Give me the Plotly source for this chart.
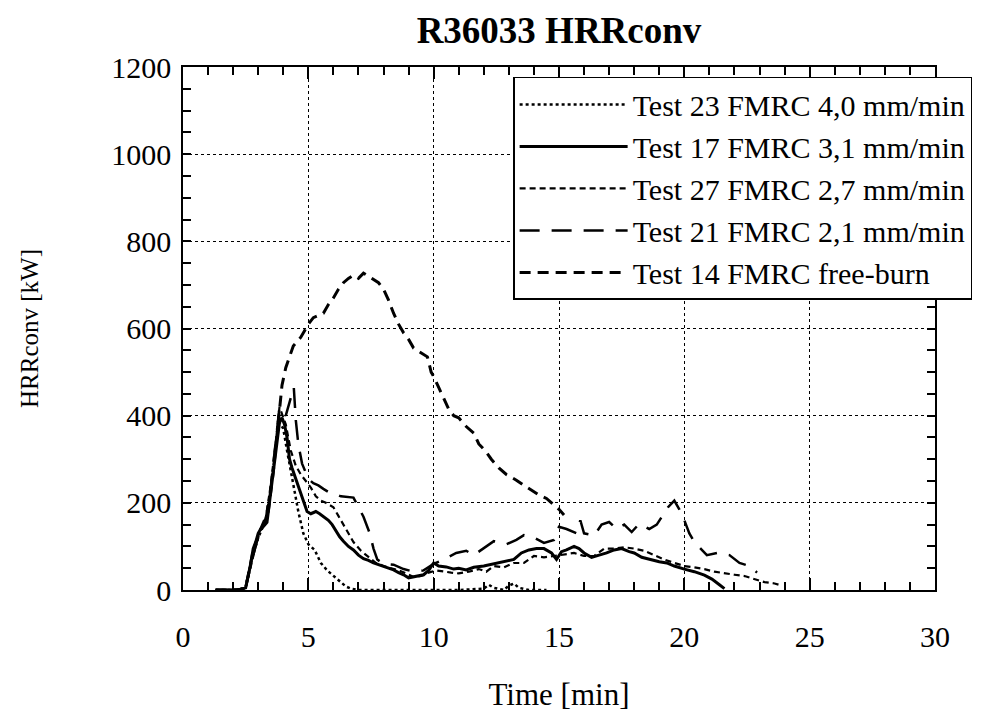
import plotly.graph_objects as go

# ---------------- data ----------------
t23 = [1.3, 2.2, 2.5, 2.7, 3.0, 3.3, 3.5, 3.7, 3.85, 4.0, 4.15, 4.3, 4.45, 4.6, 4.8, 5.0, 5.25,
       5.5, 5.75, 6.0, 6.3, 6.5, 6.7, 7.0, 8.0, 9.0, 10.0, 11.0, 12.0, 12.2, 12.4, 12.8, 13.0,
       13.2, 13.4, 13.8, 14.5]
v23 = [0, 0, 8, 60, 120, 160, 230, 330, 385, 370, 320, 270, 230, 180, 130, 105, 92,
       62, 45, 32, 18, 8, 3, 0, 0, 0, 0, 0, 3, 12, 5, 0, 10,
       15, 5, 0, 0]

t17 = [1.3, 2.0, 2.3, 2.5, 2.7, 2.8, 2.9, 3.0, 3.1, 3.2, 3.35, 3.45, 3.55, 3.65, 3.75, 3.85,
       3.95, 4.05, 4.15, 4.25, 4.35, 4.5, 4.65, 4.8, 4.95, 5.1, 5.3, 5.45, 5.6, 5.8, 5.95, 6.1,
       6.25, 6.4, 6.6, 6.8, 7.0, 7.2, 7.4, 7.6, 7.8, 8.0, 8.2, 8.4, 8.6, 8.8, 9.0, 9.2, 9.4,
       9.6, 9.8, 10.0, 10.2, 10.5, 10.8, 11.0, 11.3, 11.6, 12.0, 12.4, 12.8, 13.2, 13.5, 13.8,
       14.1, 14.4, 14.7, 14.9, 15.1, 15.3, 15.6, 15.8, 16.0, 16.3, 16.6, 16.9, 17.2, 17.5,
       17.8, 18.0, 18.3, 18.6, 19.0, 19.3, 19.6, 20.0, 20.4, 20.8, 21.1, 21.4, 21.6]
v17 = [0, 0, 2, 5, 60, 95, 110, 130, 140, 145, 155, 200, 245, 295, 340, 385,
       395, 380, 350, 300, 280, 255, 225, 200, 180, 175, 180, 175, 168, 160, 150, 135,
       122, 112, 100, 92, 80, 72, 68, 62, 58, 53, 50, 46, 40, 35, 28, 30, 32,
       35, 45, 62, 55, 53, 48, 50, 46, 52, 55, 60, 65, 70, 85, 92,
       95, 95, 85, 70, 88, 92, 100, 95, 85, 75, 80, 85, 92, 95,
       88, 85, 75, 70, 65, 62, 55, 48, 42, 34, 25, 12, 3]

t27 = [1.3, 2.3, 2.5, 2.7, 3.0, 3.3, 3.5, 3.7, 3.85, 4.1, 4.3, 4.5, 4.7, 4.9, 5.1, 5.3, 5.5,
       5.7, 6.0, 6.2, 6.5, 6.8, 7.1, 7.4, 7.7, 8.0, 8.3, 8.6, 8.9, 9.2, 9.5, 9.8, 10.1, 10.4,
       10.7, 11.0, 11.4, 11.8, 12.1, 12.4, 12.8, 13.2, 13.6, 14.0, 14.4, 14.8, 15.2, 15.6,
       16.0, 16.4, 16.8, 17.2, 17.6, 18.0, 18.4, 18.8, 19.2, 19.6, 20.0, 20.4, 20.8, 21.2,
       21.6, 22.0, 22.4, 22.8, 23.2, 23.6, 23.9]
v27 = [0, 0, 5, 55, 125, 165, 240, 340, 420, 380, 320, 285, 265, 250, 235, 215, 205,
       200, 190, 170, 140, 110, 90, 75, 62, 55, 50, 45, 38, 30, 32, 40, 45, 42,
       40, 38, 42, 48, 42, 55, 52, 62, 62, 78, 75, 78, 82, 85,
       78, 78, 95, 95, 98, 95, 90, 80, 70, 62, 55, 52, 48, 42,
       38, 35, 32, 25, 18, 15, 10]

t21 = [1.3, 2.3, 2.5, 2.7, 3.0, 3.3, 3.5, 3.7, 3.85, 4.1, 4.3, 4.42, 4.5, 4.6, 4.75, 5.0,
       5.2, 5.4, 5.6, 5.8, 6.0, 6.3, 6.8, 7.0, 7.2, 7.45, 7.6, 7.75, 8.0, 8.4, 8.8, 9.2,
       9.6, 10.0, 10.4, 10.9, 11.3, 11.6, 12.0, 12.4, 12.9, 13.3, 13.6, 14.0, 14.4, 14.8,
       15.0, 15.3, 15.7, 15.85, 16.0, 16.4, 16.7, 17.0, 17.3, 17.6, 17.9, 18.2, 18.6, 18.9,
       19.35, 19.6, 19.8, 20.0, 20.2, 20.4, 20.9, 21.3, 21.8, 22.2, 22.6, 22.9]
v21 = [0, 0, 6, 58, 122, 162, 235, 335, 420, 400, 440, 465, 390, 335, 290, 255,
       245, 240, 232, 225, 222, 215, 212, 190, 168, 130, 95, 70, 60, 58, 48, 42,
       45, 60, 70, 85, 90, 80, 95, 112, 105, 115, 126, 120, 108, 115,
       145, 140, 130, 160, 130, 125, 150, 156, 140, 150, 133, 152, 140, 150,
       190, 205, 185, 160, 130, 110, 80, 85, 80, 62, 55, 40]

t14 = [1.3, 2.3, 2.5, 2.8, 3.1, 3.4, 3.6, 3.75, 3.85, 3.95, 4.1, 4.25, 4.4, 4.55, 4.7, 4.85,
       5.0, 5.2, 5.4, 5.6, 5.8, 6.0, 6.2, 6.4, 6.6, 6.8, 7.0, 7.2, 7.4, 7.6, 7.8, 8.0, 8.2,
       8.4, 8.6, 8.8, 9.0, 9.2, 9.4, 9.6, 9.75, 9.9, 10.0, 10.2, 10.4, 10.6, 10.8, 11.0,
       11.3, 11.6, 11.8, 12.05, 12.3, 12.6, 12.9, 13.3, 13.6, 13.9, 14.2, 14.5, 14.8, 15.0,
       15.2]
v14 = [0, 0, 5, 90, 140, 180, 270, 360, 420, 470, 510, 535, 560, 570, 580, 595,
       610, 625, 630, 635, 655, 670, 690, 705, 715, 722, 715, 727, 720, 712, 705, 690, 665,
       635, 610, 590, 575, 555, 548, 540, 535, 500, 490, 465, 440, 415, 400, 395,
       375, 360, 335, 320, 300, 280, 265, 252, 240, 228, 218, 210, 195, 185,
       172]

names = ["Test 23 FMRC 4,0 mm/min", "Test 17 FMRC 3,1 mm/min", "Test 27 FMRC 2,7 mm/min",
         "Test 21 FMRC 2,1 mm/min", "Test 14 FMRC free-burn"]

x_ticks = [0, 5, 10, 15, 20, 25, 30]
y_ticks = [0, 200, 400, 600, 800, 1000, 1200]

# ---------------- figure ----------------
FONT = "Liberation Serif, Times New Roman, serif"
series = [
    (t23, v23, names[0], dict(color="black", width=2.5, dash="dot")),
    (t17, v17, names[1], dict(color="black", width=3, dash="solid")),
    (t27, v27, names[2], dict(color="black", width=2.2, dash="6px,4px")),
    (t21, v21, names[3], dict(color="black", width=2.5, dash="20px,12px")),
    (t14, v14, names[4], dict(color="black", width=3, dash="11px,7px")),
]

fig = go.Figure()
for tx, vy, nm, ln in series:
    fig.add_trace(go.Scatter(x=tx, y=vy, mode="lines", name=nm, line=ln))

axis_common = dict(
    showline=True, linecolor="black", linewidth=1.5, mirror="ticks",
    ticks="inside", tickcolor="black", tickwidth=1.5,
    showgrid=True, gridcolor="black", gridwidth=1.3, griddash="dot",
    zeroline=False,
    tickfont=dict(family=FONT, size=30, color="black"),
)

fig.update_xaxes(
    **axis_common,
    range=[0, 30], tickvals=x_ticks, ticklen=12, ticklabelstandoff=19,
    minor=dict(dtick=1, ticks="inside", ticklen=8, tickcolor="black", tickwidth=1.5, showgrid=False),
    title=dict(text="Time [min]", font=dict(family=FONT, size=31, color="black"), standoff=40),
)
fig.update_yaxes(
    **axis_common,
    range=[0, 1200], tickvals=y_ticks, ticklen=8, ticklabelstandoff=4,
    minor=dict(dtick=50, ticks="inside", ticklen=8, tickcolor="black", tickwidth=1.5, showgrid=False),
    title=dict(text="HRRconv [kW]", font=dict(family=FONT, size=25, color="black"), standoff=66),
)

# the page body adds an 8px offset, so the figure is sized to fit the window
L, R, T, B = 175, 67, 59, 122
W, H = 994, 704
fig.update_layout(
    width=W, height=H,
    margin=dict(l=L, r=R, t=T, b=B, autoexpand=False),
    paper_bgcolor="white", plot_bgcolor="white",
    font=dict(family=FONT, color="black"),
    title=dict(text="<b>R36033 HRRconv</b>", x=(L + (W - L - R) / 2) / W, xanchor="center",
               y=1 - 22 / H, yanchor="middle",
               font=dict(family=FONT, size=37, color="black")),
    legend=dict(x=0.439, y=0.981, xanchor="left", yanchor="top",
                bgcolor="white", bordercolor="black", borderwidth=1.5,
                font=dict(family=FONT, size=30, color="black"),
                itemwidth=108, tracegroupgap=0),
    showlegend=True,
)

fig.write_html("out.html")
